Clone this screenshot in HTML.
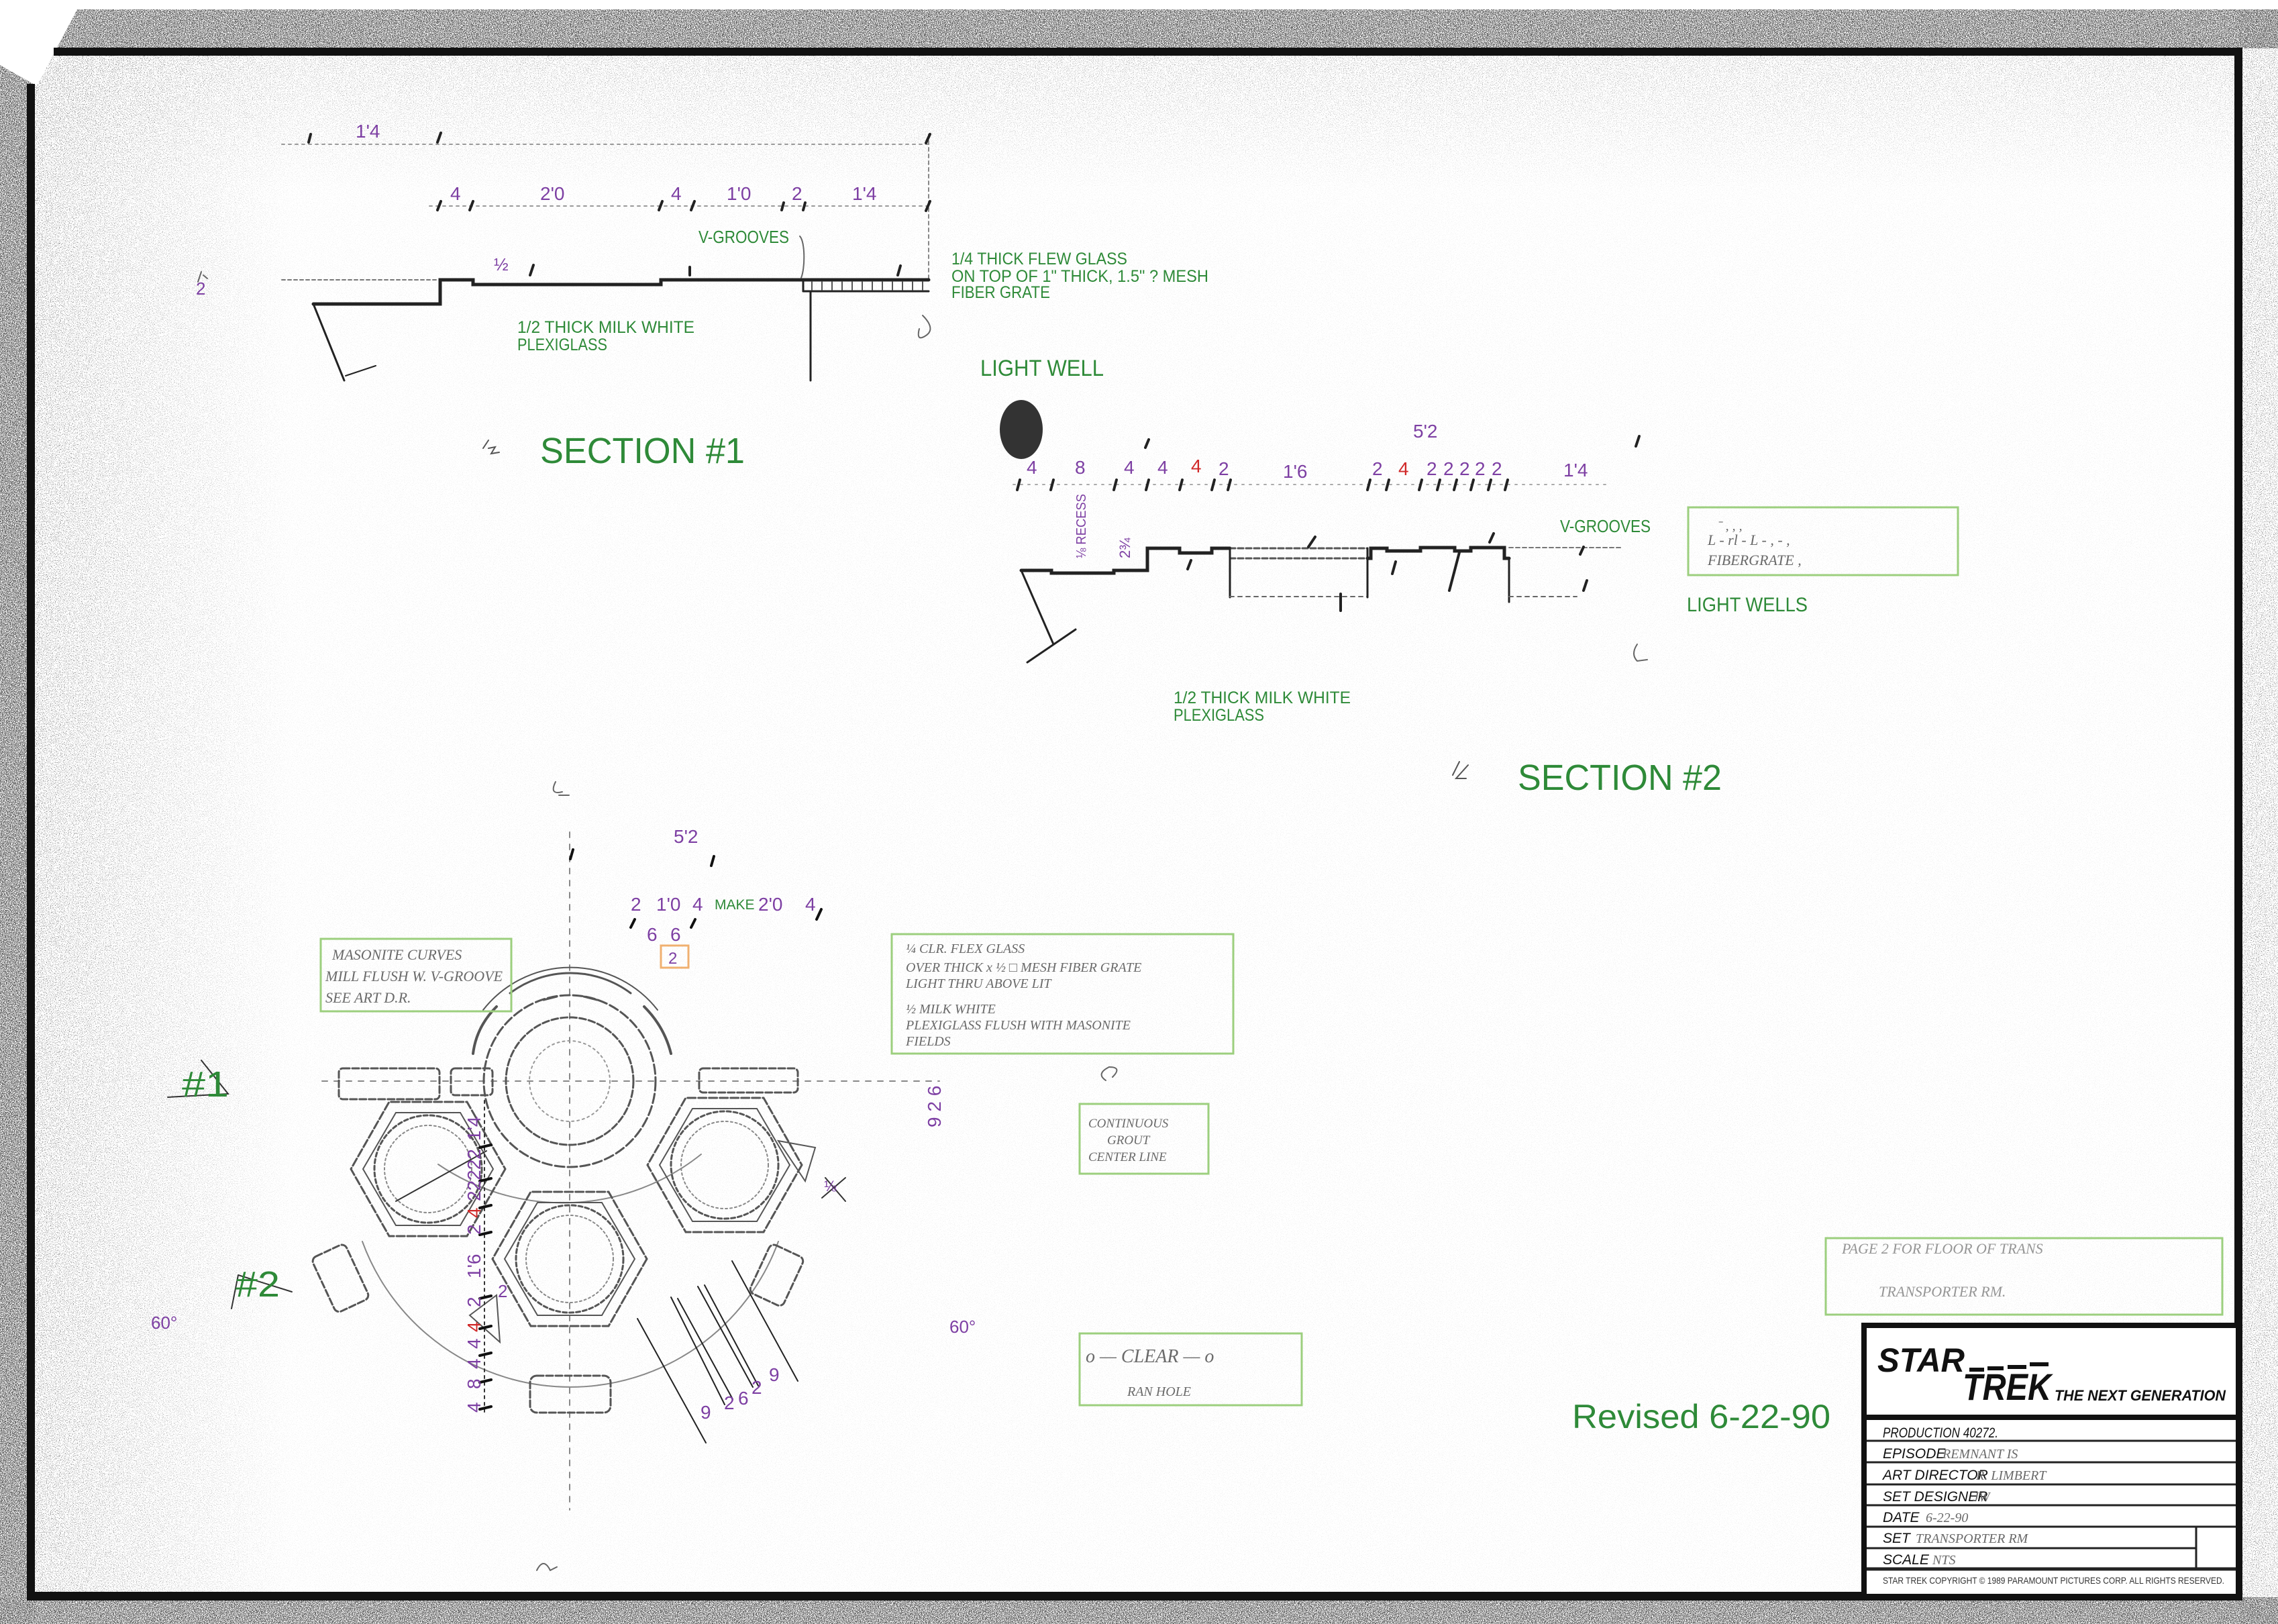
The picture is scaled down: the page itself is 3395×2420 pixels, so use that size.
<!DOCTYPE html>
<html><head><meta charset="utf-8"><style>
html,body{margin:0;padding:0;background:#fff;}
svg{display:block;}
.p{fill:#7d3fa3;font-family:"Liberation Sans Narrow","Liberation Sans",sans-serif;}
.r{fill:#d02828;font-family:"Liberation Sans Narrow","Liberation Sans",sans-serif;}
.g{fill:#2e8a38;font-family:"Liberation Sans Narrow","Liberation Sans",sans-serif;}
.h{fill:#6a6a6a;font-family:"Liberation Serif",serif;font-style:italic;}
.t{fill:#111;font-family:"Liberation Sans Narrow","Liberation Sans",sans-serif;font-style:italic;}
</style></head><body>
<svg width="3395" height="2420" viewBox="0 0 3395 2420" xmlns="http://www.w3.org/2000/svg">
<defs>
<filter id="nd" x="0" y="0" width="1" height="1">
<feTurbulence type="fractalNoise" baseFrequency="0.85" numOctaves="2" seed="4"/>
<feColorMatrix type="matrix" values="0 0 0 0 0.1  0 0 0 0 0.1  0 0 0 0 0.1  -14 0 0 0 7.6"/>
</filter>
<filter id="nm" x="0" y="0" width="1" height="1">
<feTurbulence type="fractalNoise" baseFrequency="0.85" numOctaves="2" seed="9"/>
<feColorMatrix type="matrix" values="0 0 0 0 0.15  0 0 0 0 0.15  0 0 0 0 0.15  -20 0 0 0 8.2"/>
</filter>
<linearGradient id="lg" x1="0" x2="1" y1="0" y2="0"><stop offset="0" stop-color="#fff"/><stop offset="1" stop-color="#000"/></linearGradient>
<mask id="lm"><rect x="52" y="80" width="380" height="2300" fill="url(#lg)"/></mask>
<linearGradient id="bg2" x1="0" x2="0" y1="0" y2="1"><stop offset="0" stop-color="#fff"/><stop offset="1" stop-color="#000"/></linearGradient>
<mask id="tm"><rect x="52" y="83" width="3280" height="200" fill="url(#bg2)"/></mask>
</defs>

<!-- paper speckle -->
<rect x="0" y="0" width="3395" height="2420" filter="url(#nm)" opacity="0.08"/>
<rect x="0" y="0" width="3395" height="72" filter="url(#nd)"/>
<rect x="0" y="0" width="52" height="2420" filter="url(#nd)"/>
<rect x="0" y="2380" width="3395" height="40" filter="url(#nd)"/>
<rect x="3338" y="0" width="57" height="2420" filter="url(#nm)" opacity="0.7"/>
<rect x="52" y="80" width="380" height="2300" filter="url(#nm)" mask="url(#lm)" opacity="0.8"/>
<rect x="52" y="83" width="3280" height="200" filter="url(#nm)" mask="url(#tm)" opacity="0.5"/>
<!-- paper cut -->
<polygon points="0,0 3395,0 3395,14 115,14 55,128 0,97" fill="#fff"/>

<!-- frame -->
<rect x="80" y="71" width="3262" height="12" fill="#111"/>
<rect x="40" y="125" width="12" height="2260" fill="#111"/>
<rect x="3330" y="71" width="12" height="2314" fill="#111"/>
<rect x="40" y="2372" width="3302" height="13" fill="#111"/>

<!-- ===== SECTION 1 ===== -->
<g stroke="#222" fill="none" stroke-linecap="round">
<line x1="420" y1="215" x2="1390" y2="215" stroke="#999" stroke-width="2" stroke-dasharray="4 6"/>
<line x1="640" y1="307" x2="1390" y2="307" stroke="#999" stroke-width="2" stroke-dasharray="4 6"/>
<line x1="1384" y1="200" x2="1384" y2="420" stroke="#888" stroke-width="2" stroke-dasharray="5 5"/>
<line x1="420" y1="417" x2="650" y2="417" stroke="#777" stroke-width="2" stroke-dasharray="5 4"/>
<polyline points="467,453 656,453 656,417 705,417 705,424 985,424 985,417 1197,417 1384,417" stroke-width="5"/>
<line x1="1197" y1="434" x2="1384" y2="434" stroke-width="3"/>
<line x1="1197" y1="417" x2="1197" y2="434" stroke-width="3"/>
<g stroke-width="2" stroke="#555"><line x1="1210" y1="420" x2="1210" y2="432"/><line x1="1225" y1="420" x2="1225" y2="432"/><line x1="1240" y1="420" x2="1240" y2="432"/><line x1="1255" y1="420" x2="1255" y2="432"/><line x1="1270" y1="420" x2="1270" y2="432"/><line x1="1285" y1="420" x2="1285" y2="432"/><line x1="1300" y1="420" x2="1300" y2="432"/><line x1="1315" y1="420" x2="1315" y2="432"/><line x1="1330" y1="420" x2="1330" y2="432"/><line x1="1345" y1="420" x2="1345" y2="432"/><line x1="1360" y1="420" x2="1360" y2="432"/><line x1="1375" y1="420" x2="1375" y2="432"/></g>
<line x1="467" y1="453" x2="513" y2="567" stroke-width="3"/>
<line x1="1208" y1="434" x2="1208" y2="567" stroke-width="3"/>
<line x1="515" y1="560" x2="560" y2="545" stroke-width="2"/>
<g stroke-width="4"><line x1="460" y1="212" x2="463" y2="200"/><line x1="652" y1="212" x2="657" y2="198"/><line x1="1380" y1="213" x2="1386" y2="200"/><line x1="652" y1="313" x2="657" y2="300"/><line x1="700" y1="313" x2="705" y2="300"/><line x1="982" y1="313" x2="987" y2="300"/><line x1="1030" y1="313" x2="1035" y2="300"/><line x1="1165" y1="313" x2="1168" y2="302"/><line x1="1197" y1="313" x2="1200" y2="302"/><line x1="1380" y1="314" x2="1386" y2="300"/><line x1="790" y1="410" x2="795" y2="395"/><line x1="1028" y1="410" x2="1028" y2="398"/><line x1="1338" y1="410" x2="1342" y2="396"/></g>
<path d="M1192,352 C1200,360 1200,400 1194,414" stroke-width="2" stroke="#666"/>
<path d="M1375,470 q20,20 5,30 q-15,10 -10,-10" stroke-width="2" stroke="#666"/>
<path d="M300,405 l-5,15 m8,-10 l6,5" stroke-width="2" stroke="#666"/>
<path d="M720,668 l8,-12 m0,12 l10,-2 l-6,10 l12,-2" stroke-width="2" stroke="#555"/>
</g>
<text class="p" x="530" y="205" font-size="28">1'4</text>
<text class="p" x="671" y="298" font-size="28">4</text>
<text class="p" x="805" y="298" font-size="28">2'0</text>
<text class="p" x="1000" y="298" font-size="28">4</text>
<text class="p" x="1083" y="298" font-size="28">1'0</text>
<text class="p" x="1180" y="298" font-size="28">2</text>
<text class="p" x="1270" y="298" font-size="28">1'4</text>
<text class="p" x="736" y="403" font-size="26">½</text>
<text class="p" x="292" y="439" font-size="26">2</text>
<text class="g" x="1041" y="362" font-size="26" textLength="135" lengthAdjust="spacingAndGlyphs">V-GROOVES</text>
<text class="g" x="1418" y="394" font-size="25" textLength="262" lengthAdjust="spacingAndGlyphs">1/4 THICK FLEW GLASS</text>
<text class="g" x="1418" y="420" font-size="25" textLength="383" lengthAdjust="spacingAndGlyphs">ON TOP OF 1" THICK, 1.5" ? MESH</text>
<text class="g" x="1418" y="444" font-size="25" textLength="147" lengthAdjust="spacingAndGlyphs">FIBER GRATE</text>
<text class="g" x="771" y="496" font-size="25" textLength="264" lengthAdjust="spacingAndGlyphs">1/2 THICK MILK WHITE</text>
<text class="g" x="771" y="522" font-size="25" textLength="134" lengthAdjust="spacingAndGlyphs">PLEXIGLASS</text>
<text class="g" x="1461" y="560" font-size="34" textLength="184" lengthAdjust="spacingAndGlyphs">LIGHT WELL</text>
<text class="g" x="805" y="690" font-size="54" textLength="305" lengthAdjust="spacingAndGlyphs">SECTION #1</text>
<ellipse cx="1522" cy="640" rx="32" ry="44" fill="#333"/>

<!-- ===== SECTION 2 ===== -->
<g stroke="#222" fill="none" stroke-linecap="round">
<line x1="1510" y1="722" x2="2400" y2="722" stroke="#aaa" stroke-width="2" stroke-dasharray="3 8"/>
<polyline points="1522,850 1567,850 1567,854 1660,854 1660,850 1710,850 1710,817 1758,817 1758,824 1806,824 1806,817 1833,817" stroke-width="5"/>
<line x1="1833" y1="817" x2="2038" y2="817" stroke-width="3" stroke-dasharray="8 4" stroke="#555"/>
<line x1="1833" y1="832" x2="2038" y2="832" stroke-width="3" stroke-dasharray="8 4" stroke="#555"/>
<line x1="1833" y1="817" x2="1833" y2="890" stroke-width="3"/>
<line x1="1833" y1="889" x2="2038" y2="889" stroke-width="2" stroke-dasharray="6 6" stroke="#666"/>
<line x1="2038" y1="817" x2="2038" y2="890" stroke-width="3"/>
<polyline points="2038,832 2043,832 2043,817 2067,817 2067,821 2117,821 2117,816 2168,816 2168,821 2192,821 2192,816 2242,816 2242,832 2249,832" stroke-width="5"/>
<line x1="2249" y1="832" x2="2249" y2="897" stroke-width="3"/>
<line x1="2249" y1="816" x2="2416" y2="816" stroke-width="2" stroke-dasharray="6 4" stroke="#777"/>
<line x1="2249" y1="889" x2="2350" y2="889" stroke-width="2" stroke-dasharray="6 6" stroke="#666"/>
<line x1="1522" y1="850" x2="1570" y2="960" stroke-width="3"/>
<line x1="1603" y1="938" x2="1531" y2="987" stroke-width="3"/>
<g stroke-width="4"><line x1="1516" y1="730" x2="1520" y2="715"/><line x1="1566" y1="730" x2="1570" y2="715"/><line x1="1660" y1="730" x2="1664" y2="715"/><line x1="1708" y1="730" x2="1712" y2="715"/><line x1="1758" y1="730" x2="1762" y2="715"/><line x1="1806" y1="730" x2="1810" y2="715"/><line x1="1830" y1="730" x2="1834" y2="715"/><line x1="2038" y1="730" x2="2042" y2="715"/><line x1="2066" y1="730" x2="2070" y2="715"/><line x1="2115" y1="730" x2="2119" y2="715"/><line x1="2142" y1="730" x2="2146" y2="715"/><line x1="2167" y1="730" x2="2171" y2="715"/><line x1="2192" y1="730" x2="2196" y2="715"/><line x1="2218" y1="730" x2="2222" y2="715"/><line x1="2243" y1="730" x2="2247" y2="715"/><line x1="1707" y1="667" x2="1712" y2="655"/><line x1="2438" y1="665" x2="2443" y2="650"/><line x1="1950" y1="815" x2="1960" y2="800"/><line x1="1775" y1="835" x2="1770" y2="848"/><line x1="2080" y1="837" x2="2075" y2="855"/><line x1="2175" y1="823" x2="2160" y2="880"/><line x1="2220" y1="808" x2="2226" y2="795"/><line x1="2355" y1="826" x2="2360" y2="815"/><line x1="2360" y1="880" x2="2365" y2="865"/><line x1="1998" y1="885" x2="1998" y2="910"/></g>
<path d="M2440,960 q-10,15 0,25 l15,-2" stroke-width="2" stroke="#666"/>
<path d="M2165,1155 l10,-20 m10,25 l-15,0 l18,-20" stroke-width="2" stroke="#555"/>
</g>
<text class="p" x="2106" y="652" font-size="28">5'2</text>
<text class="p" x="1530" y="706" font-size="28">4</text>
<text class="p" x="1602" y="706" font-size="28">8</text>
<text class="p" x="1675" y="706" font-size="28">4</text>
<text class="p" x="1725" y="706" font-size="28">4</text>
<text class="r" x="1775" y="704" font-size="28">4</text>
<text class="p" x="1816" y="708" font-size="28">2</text>
<text class="p" x="1912" y="712" font-size="28">1'6</text>
<text class="p" x="2045" y="708" font-size="28">2</text>
<text class="r" x="2084" y="708" font-size="28">4</text>
<text class="p" x="2126" y="708" font-size="28">2</text>
<text class="p" x="2151" y="708" font-size="28">2</text>
<text class="p" x="2175" y="708" font-size="28">2</text>
<text class="p" x="2198" y="708" font-size="28">2</text>
<text class="p" x="2223" y="708" font-size="28">2</text>
<text class="p" x="2330" y="710" font-size="28">1'4</text>
<text class="p" font-size="20" transform="translate(1618,832) rotate(-90)" textLength="96" lengthAdjust="spacingAndGlyphs">⅛ RECESS</text>
<text class="p" font-size="22" transform="translate(1684,832) rotate(-90)">2¾</text>
<text class="g" x="2325" y="793" font-size="26" textLength="135" lengthAdjust="spacingAndGlyphs">V-GROOVES</text>
<rect x="2516" y="756" width="402" height="101" fill="none" stroke="#9ccf7e" stroke-width="3"/>
<text class="h" x="2560" y="790" font-size="20">ˉ  ,   ,      ,</text>
<text class="h" x="2545" y="812" font-size="22">L  - rl - L - , - ,</text>
<text class="h" x="2545" y="842" font-size="22">FIBERGRATE ,</text>
<text class="g" x="2514" y="911" font-size="30" textLength="180" lengthAdjust="spacingAndGlyphs">LIGHT WELLS</text>
<text class="g" x="1749" y="1048" font-size="25" textLength="264" lengthAdjust="spacingAndGlyphs">1/2 THICK MILK WHITE</text>
<text class="g" x="1749" y="1074" font-size="25" textLength="135" lengthAdjust="spacingAndGlyphs">PLEXIGLASS</text>
<text class="g" x="2262" y="1177" font-size="54" textLength="304" lengthAdjust="spacingAndGlyphs">SECTION #2</text>

<!-- ===== PLAN ===== -->
<g fill="none" stroke="#555" stroke-width="3" stroke-linecap="round">
<line x1="849" y1="1240" x2="849" y2="2250" stroke="#888" stroke-width="2" stroke-dasharray="8 10"/>
<line x1="480" y1="1611" x2="1400" y2="1611" stroke="#888" stroke-width="2" stroke-dasharray="8 10"/>
<circle cx="849" cy="1611" r="95" stroke-dasharray="10 4"/>
<circle cx="849" cy="1611" r="128" stroke-dasharray="14 5"/>
<circle cx="849" cy="1611" r="60" stroke="#999" stroke-width="2" stroke-dasharray="3 5"/>
<path d="M653,1735 A330,330 0 0 0 1045,1720" stroke="#888" stroke-width="2"/>
<path d="M540,1790 A330,330 0 0 0 1160,1790" stroke="#888" stroke-width="2" transform="translate(0,60)"/>
<path d="M760,1480 A150,150 0 0 1 940,1480" stroke-width="3"/>
<path d="M720,1505 A165,165 0 0 1 980,1505" stroke-width="2"/>
<polygon points="753,1742 696,1842 580,1842 523,1742 580,1642 696,1642" stroke-dasharray="12 4"/>
<polygon points="735,1742 686,1826 590,1826 541,1742 590,1658 686,1658" stroke-width="2"/>
<circle cx="638" cy="1742" r="80" stroke-dasharray="6 4"/>
<circle cx="638" cy="1742" r="65" stroke="#888" stroke-width="2" stroke-dasharray="3 4"/>
<polygon points="1195,1736 1138,1836 1022,1836 965,1736 1022,1636 1138,1636" stroke-dasharray="12 4"/>
<polygon points="1177,1736 1128,1820 1032,1820 983,1736 1032,1652 1128,1652" stroke-width="2"/>
<circle cx="1080" cy="1736" r="80" stroke-dasharray="6 4"/>
<circle cx="1080" cy="1736" r="65" stroke="#888" stroke-width="2" stroke-dasharray="3 4"/>
<polygon points="964,1876 907,1976 791,1976 734,1876 791,1776 907,1776" stroke-dasharray="12 4"/>
<polygon points="946,1876 897,1960 801,1960 752,1876 801,1792 897,1792" stroke-width="2"/>
<circle cx="849" cy="1876" r="80" stroke-dasharray="6 4"/>
<circle cx="849" cy="1876" r="65" stroke="#888" stroke-width="2" stroke-dasharray="3 4"/>
<rect x="505" y="1592" width="150" height="46" rx="6" stroke-dasharray="10 4"/>
<rect x="672" y="1592" width="62" height="40" rx="6" stroke-dasharray="10 4"/>
<rect x="1042" y="1592" width="147" height="36" rx="6" stroke-dasharray="10 4"/>
<rect x="790" y="2050" width="120" height="55" rx="10" stroke-dasharray="10 4"/>
<rect x="480" y="1860" width="55" height="90" rx="8" transform="rotate(-25 507 1905)" stroke-dasharray="10 4"/>
<rect x="1130" y="1860" width="55" height="80" rx="8" transform="rotate(25 1157 1900)" stroke-dasharray="10 4"/>
<path d="M960,1500 q30,30 40,70" stroke-width="4"/>
<path d="M740,1500 q-30,30 -35,70" stroke-width="4"/>
<path d="M810,1490 l20,-5 m40,0 l20,5" stroke-width="3"/>
<polygon points="1160,1700 1215,1710 1200,1760" stroke-width="2"/>
<polygon points="700,1960 740,1930 745,2000" stroke-width="2"/>
<line x1="590" y1="1790" x2="725" y2="1715" stroke="#333" stroke-width="2"/>
<line x1="950" y1="1965" x2="1052" y2="2150" stroke="#222" stroke-width="2"/>
<line x1="1000" y1="1933" x2="1080" y2="2093" stroke="#222" stroke-width="2"/>
<line x1="1010" y1="1935" x2="1092" y2="2085" stroke="#222" stroke-width="2"/>
<line x1="1040" y1="1917" x2="1122" y2="2067" stroke="#222" stroke-width="2"/>
<line x1="1050" y1="1915" x2="1130" y2="2065" stroke="#222" stroke-width="2"/>
<line x1="1091" y1="1879" x2="1189" y2="2058" stroke="#222" stroke-width="2"/>
<line x1="722" y1="1640" x2="722" y2="2110" stroke="#333" stroke-width="2" stroke-dasharray="4 6"/>
<g stroke="#111" stroke-width="4"><line x1="715" y1="1710" x2="732" y2="1706"/><line x1="715" y1="1760" x2="732" y2="1756"/><line x1="715" y1="1800" x2="732" y2="1796"/><line x1="715" y1="1840" x2="732" y2="1836"/><line x1="715" y1="1935" x2="732" y2="1931"/><line x1="715" y1="1980" x2="732" y2="1976"/><line x1="715" y1="2020" x2="732" y2="2016"/><line x1="715" y1="2060" x2="732" y2="2056"/><line x1="715" y1="2100" x2="732" y2="2096"/></g>
<path d="M300,1580 l40,50 l-90,5" stroke="#333" stroke-width="2"/>
<path d="M355,1900 l80,25 m-80,-25 l-10,50" stroke="#333" stroke-width="2"/>
<path d="M1225,1785 l35,-30 m-30,0 l30,35" stroke="#333" stroke-width="2"/>
<line x1="1060" y1="1290" x2="1064" y2="1276" stroke="#111" stroke-width="4"/>
<line x1="850" y1="1280" x2="854" y2="1266" stroke="#111" stroke-width="4"/>
<line x1="1217" y1="1370" x2="1224" y2="1355" stroke="#111" stroke-width="4"/>
<line x1="940" y1="1382" x2="946" y2="1370" stroke="#111" stroke-width="4"/>
<line x1="1030" y1="1382" x2="1036" y2="1370" stroke="#111" stroke-width="4"/>
<path d="M838,1180 q-20,5 -10,-15 m5,20 l15,0" stroke="#666" stroke-width="2"/>
<path d="M1648,1610 q-15,-10 5,-20 q20,0 5,15" stroke="#666" stroke-width="2"/>
<path d="M800,2340 q10,-20 20,0 l10,-5" stroke="#666" stroke-width="2"/>
</g>
<text class="p" x="1004" y="1256" font-size="28">5'2</text>
<text class="p" x="940" y="1357" font-size="28">2</text>
<text class="p" x="978" y="1357" font-size="28">1'0</text>
<text class="p" x="1032" y="1357" font-size="28">4</text>
<text class="g" x="1065" y="1355" font-size="21">MAKE</text>
<text class="p" x="1130" y="1357" font-size="28">2'0</text>
<text class="p" x="1200" y="1357" font-size="28">4</text>
<text class="p" x="964" y="1402" font-size="28">6</text>
<text class="p" x="999" y="1402" font-size="28">6</text>
<rect x="985" y="1409" width="41" height="33" fill="none" stroke="#f0b070" stroke-width="3"/>
<text class="p" x="996" y="1436" font-size="24">2</text>
<g class="p" font-size="28">
<text transform="translate(716,1700) rotate(-90)">1'4</text>
<text transform="translate(716,1790) rotate(-90)">22222</text>
<text transform="translate(716,1840) rotate(-90)">2</text>
<text transform="translate(716,1905) rotate(-90)">1'6</text>
<text transform="translate(716,1948) rotate(-90)">2</text>
<text transform="translate(716,2010) rotate(-90)">4</text>
<text transform="translate(716,2040) rotate(-90)">4</text>
<text transform="translate(716,2070) rotate(-90)">8</text>
<text transform="translate(716,2105) rotate(-90)">4</text>
<text transform="translate(1402,1680) rotate(-90)">9 2 6</text>
</g>
<text class="r" font-size="28" transform="translate(716,1815) rotate(-90)">4</text>
<text class="r" font-size="28" transform="translate(716,1985) rotate(-90)">4</text>
<text class="p" x="742" y="1933" font-size="26">2</text>
<text class="p" x="1044" y="2114" font-size="28">9</text>
<text class="p" x="1079" y="2100" font-size="28">2</text>
<text class="p" x="1100" y="2093" font-size="28">6</text>
<text class="p" x="1120" y="2077" font-size="28">2</text>
<text class="p" x="1146" y="2058" font-size="28">9</text>
<text class="p" x="1228" y="1775" font-size="22">⅛</text>
<text class="g" x="271" y="1634" font-size="54" textLength="70" lengthAdjust="spacingAndGlyphs">#1</text>
<text class="g" x="351" y="1932" font-size="54" textLength="66" lengthAdjust="spacingAndGlyphs">#2</text>
<text class="p" x="225" y="1980" font-size="26">60°</text>
<text class="p" x="1415" y="1986" font-size="26">60°</text>

<!-- note boxes -->
<rect x="478" y="1399" width="284" height="108" fill="none" stroke="#9ccf7e" stroke-width="3"/>
<text class="h" x="495" y="1430" font-size="22">MASONITE CURVES</text>
<text class="h" x="485" y="1462" font-size="22">MILL FLUSH W. V-GROOVE</text>
<text class="h" x="485" y="1494" font-size="22">SEE ART D.R.</text>
<rect x="1329" y="1392" width="509" height="178" fill="none" stroke="#9ccf7e" stroke-width="3"/>
<text class="h" x="1350" y="1420" font-size="20">¼ CLR. FLEX GLASS</text>
<text class="h" x="1350" y="1448" font-size="20">OVER  THICK x ½ □ MESH FIBER GRATE</text>
<text class="h" x="1350" y="1472" font-size="20">LIGHT THRU ABOVE  LIT</text>
<text class="h" x="1350" y="1510" font-size="20">½ MILK WHITE</text>
<text class="h" x="1350" y="1534" font-size="20">PLEXIGLASS FLUSH WITH MASONITE</text>
<text class="h" x="1350" y="1558" font-size="20">FIELDS</text>
<rect x="1609" y="1645" width="192" height="104" fill="none" stroke="#9ccf7e" stroke-width="3"/>
<text class="h" x="1622" y="1680" font-size="19">CONTINUOUS</text>
<text class="h" x="1650" y="1705" font-size="19">GROUT</text>
<text class="h" x="1622" y="1730" font-size="19">CENTER LINE</text>
<rect x="1609" y="1987" width="331" height="107" fill="none" stroke="#9ccf7e" stroke-width="3"/>
<text class="h" x="1618" y="2030" font-size="28">o — CLEAR — o</text>
<text class="h" x="1680" y="2080" font-size="20">RAN  HOLE</text>
<rect x="2721" y="1845" width="591" height="114" fill="none" stroke="#9ccf7e" stroke-width="3"/>
<text class="h" x="2745" y="1868" font-size="22" fill-opacity="0.7">PAGE 2 FOR FLOOR OF TRANS</text>
<text class="h" x="2800" y="1932" font-size="22" fill-opacity="0.7">TRANSPORTER RM.</text>

<text class="g" x="2343" y="2128" font-size="50" textLength="385" lengthAdjust="spacingAndGlyphs" style="font-family:'Liberation Sans',sans-serif">Revised 6-22-90</text>

<!-- title block -->
<rect x="2778" y="1975" width="558" height="404" fill="#fff" stroke="#111" stroke-width="8"/>
<rect x="2778" y="2108" width="558" height="8" fill="#111"/>
<g stroke="#222" stroke-width="3">
<line x1="2782" y1="2147" x2="3332" y2="2147"/><line x1="2782" y1="2179" x2="3332" y2="2179"/><line x1="2782" y1="2212" x2="3332" y2="2212"/><line x1="2782" y1="2243" x2="3332" y2="2243"/><line x1="2782" y1="2275" x2="3332" y2="2275"/><line x1="2782" y1="2307" x2="3273" y2="2307"/><line x1="2782" y1="2338" x2="3332" y2="2338" stroke-width="5"/><line x1="3273" y1="2275" x2="3273" y2="2338"/>
</g>
<text x="2798" y="2044" font-size="50" font-weight="bold" font-style="italic" fill="#111" font-family="Liberation Sans,sans-serif" textLength="130" lengthAdjust="spacingAndGlyphs">STAR</text>
<g fill="#111"><rect x="2935" y="2038" width="22" height="6"/><rect x="2962" y="2036" width="24" height="6"/><rect x="2992" y="2034" width="28" height="6"/><rect x="3025" y="2030" width="28" height="6"/></g>
<text x="2925" y="2086" font-size="56" font-weight="bold" font-style="italic" fill="#111" font-family="Liberation Sans,sans-serif" textLength="132" lengthAdjust="spacingAndGlyphs">TREK</text>
<text x="3062" y="2087" font-size="22" font-weight="bold" font-style="italic" fill="#111" font-family="Liberation Sans,sans-serif" textLength="255" lengthAdjust="spacingAndGlyphs">THE NEXT GENERATION</text>
<g class="t" font-size="21">
<text x="2806" y="2142" textLength="172" lengthAdjust="spacingAndGlyphs">PRODUCTION 40272.</text>
<text x="2806" y="2173">EPISODE</text>
<text x="2806" y="2205">ART DIRECTOR</text>
<text x="2806" y="2237">SET DESIGNER</text>
<text x="2806" y="2268">DATE</text>
<text x="2806" y="2299">SET</text>
<text x="2806" y="2331">SCALE</text>
</g>
<g class="h" font-size="20">
<text x="2895" y="2173">REMNANT  IS</text>
<text x="2945" y="2205">R. LIMBERT</text>
<text x="2940" y="2237">JW</text>
<text x="2870" y="2268">6-22-90</text>
<text x="2855" y="2299">TRANSPORTER RM</text>
<text x="2880" y="2331">NTS</text>
</g>
<text x="2806" y="2360" font-size="14" fill="#333" font-family="Liberation Sans,sans-serif" textLength="509" lengthAdjust="spacingAndGlyphs">STAR TREK  COPYRIGHT © 1989 PARAMOUNT PICTURES CORP.  ALL RIGHTS RESERVED.</text>
</svg>
</body></html>
